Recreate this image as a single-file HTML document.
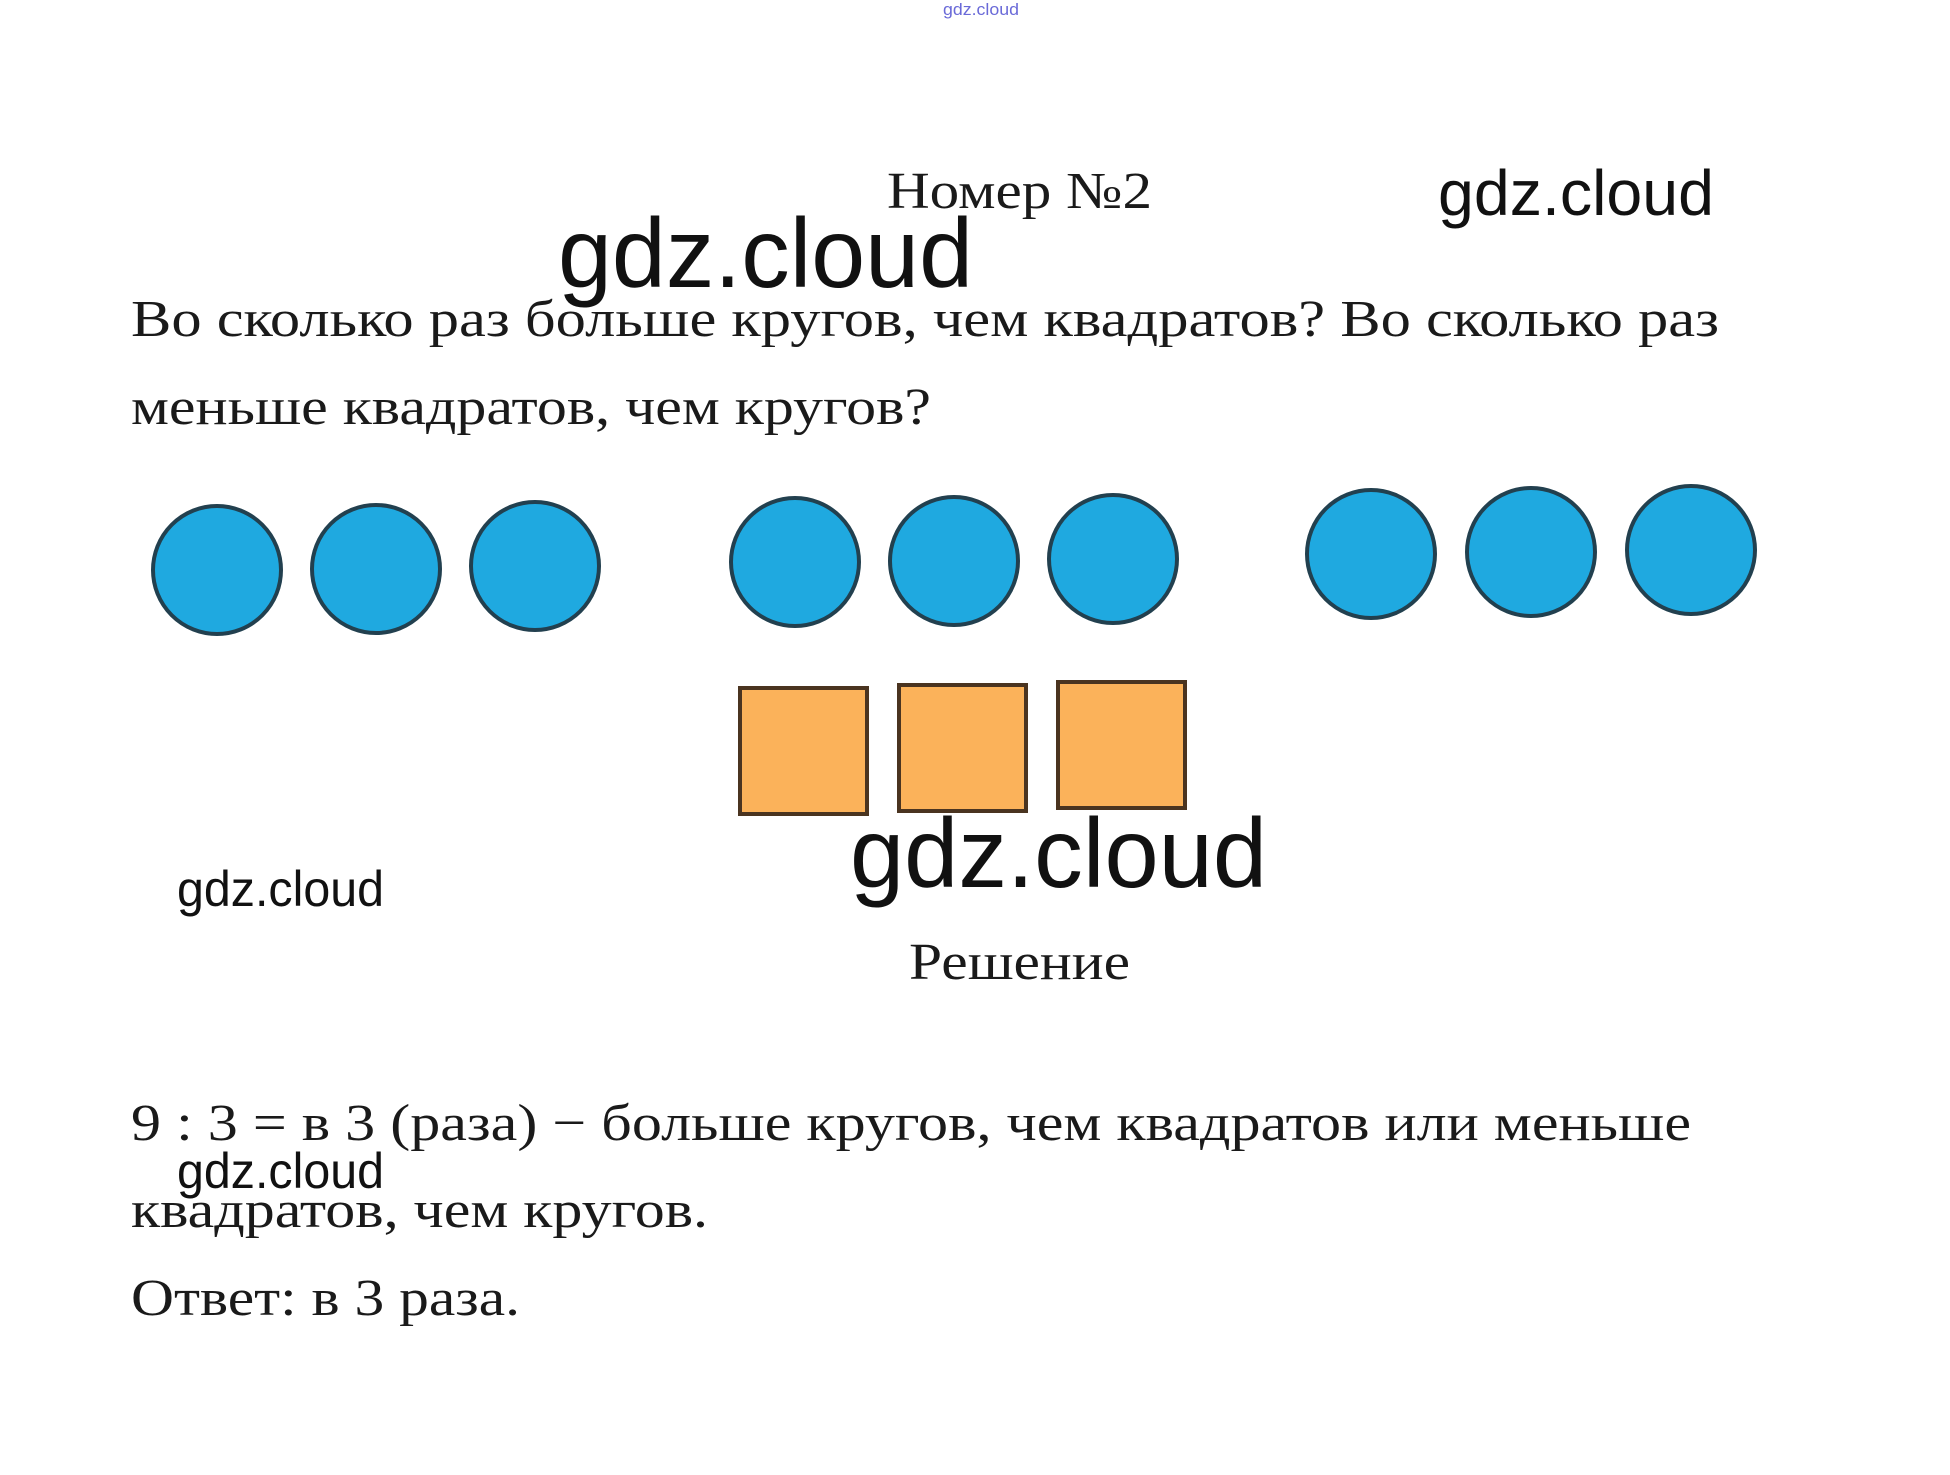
<!DOCTYPE html>
<html><head><meta charset="utf-8"><style>
html,body{margin:0;padding:0;background:#fff;width:1950px;height:1475px;overflow:hidden}
svg{display:block}
.s{font-family:"Liberation Serif",serif;fill:#1a1a1a}
.w{font-family:"Liberation Sans",sans-serif;fill:#111}
</style></head><body>
<svg width="1950" height="1475" viewBox="0 0 1950 1475" xmlns="http://www.w3.org/2000/svg">
<text x="943" y="15" class="w" style="fill:#6a6ad8" font-size="17" textLength="76" lengthAdjust="spacingAndGlyphs">gdz.cloud</text>

<text x="887" y="208" class="s" font-size="52" textLength="265" lengthAdjust="spacingAndGlyphs">Номер №2</text>
<text x="1438" y="215" class="w" font-size="64" textLength="276" lengthAdjust="spacingAndGlyphs">gdz.cloud</text>

<text x="131" y="336" class="s" font-size="52" textLength="1588" lengthAdjust="spacingAndGlyphs">Во сколько раз больше кругов, чем квадратов? Во сколько раз</text>
<text x="131" y="424" class="s" font-size="52" textLength="800" lengthAdjust="spacingAndGlyphs">меньше квадратов, чем кругов?</text>
<text x="558" y="287" class="w" font-size="98" textLength="415" lengthAdjust="spacingAndGlyphs">gdz.cloud</text>

<g fill="#1fa9e0" stroke="#22404f" stroke-width="4">
<circle cx="217" cy="570" r="64"/><circle cx="376" cy="569" r="64"/><circle cx="535" cy="566" r="64"/>
<circle cx="795" cy="562" r="64"/><circle cx="954" cy="561" r="64"/><circle cx="1113" cy="559" r="64"/>
<circle cx="1371" cy="554" r="64"/><circle cx="1531" cy="552" r="64"/><circle cx="1691" cy="550" r="64"/>
</g>
<g fill="#fbb25a" stroke="#4a3420" stroke-width="4">
<rect x="740" y="688" width="127" height="126"/>
<rect x="899" y="685" width="127" height="126"/>
<rect x="1058" y="682" width="127" height="126"/>
</g>

<text x="850" y="887" class="w" font-size="98" textLength="417" lengthAdjust="spacingAndGlyphs">gdz.cloud</text>
<text x="177" y="906" class="w" font-size="50" textLength="207" lengthAdjust="spacingAndGlyphs">gdz.cloud</text>
<text x="909" y="979" class="s" font-size="52" textLength="221" lengthAdjust="spacingAndGlyphs">Решение</text>

<text x="131" y="1140" class="s" font-size="52" textLength="1560" lengthAdjust="spacingAndGlyphs">9 : 3 = в 3 (раза) − больше кругов, чем квадратов или меньше</text>
<text x="177" y="1188" class="w" font-size="50" textLength="207" lengthAdjust="spacingAndGlyphs">gdz.cloud</text>
<text x="131" y="1227" class="s" font-size="52" textLength="577" lengthAdjust="spacingAndGlyphs">квадратов, чем кругов.</text>
<text x="131" y="1315" class="s" font-size="52" textLength="389" lengthAdjust="spacingAndGlyphs">Ответ: в 3 раза.</text>
</svg>
</body></html>
